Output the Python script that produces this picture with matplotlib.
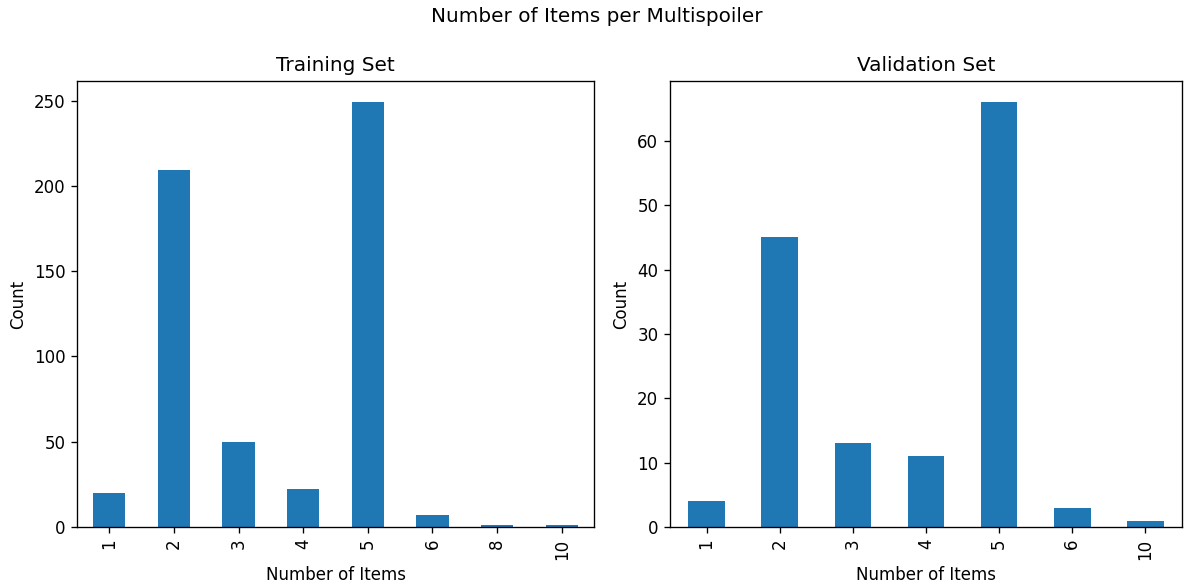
import matplotlib.pyplot as plt
import numpy as np

# cuantos items tiene cada multispoiler, en train y en validation
train_items = ['1', '2', '3', '4', '5', '6', '8', '10']
train_counts = [20, 209, 50, 22, 249, 7, 1, 1]

val_items = ['1', '2', '3', '4', '5', '6', '10']
val_counts = [4, 45, 13, 11, 66, 3, 1]

W, H = 1184, 588
fig = plt.figure(figsize=(W/120, H/120), dpi=120)
ax1 = fig.add_axes([77/W, 1 - 527/H, 517/W, 446/H])
ax2 = fig.add_axes([670/W, 1 - 527/H, 512/W, 446/H])

for ax, items, counts, titulo in [(ax1, train_items, train_counts, 'Training Set'),
                                  (ax2, val_items, val_counts, 'Validation Set')]:
    x = np.arange(len(items))
    ax.bar(x, counts, width=0.5, color='#1f77b4')
    ax.set_xticks(x)
    ax.set_xticklabels(items, rotation=90)
    ax.set_xlim(-0.5, len(items) - 0.5)
    ax.set_xlabel('Number of Items')
    ax.set_ylabel('Count')
    ax.set_title(titulo)

fig.suptitle('Number of Items per Multispoiler', x=597/W, y=1 - 7/H, va='top')
fig.savefig('out.png', dpi=120)
